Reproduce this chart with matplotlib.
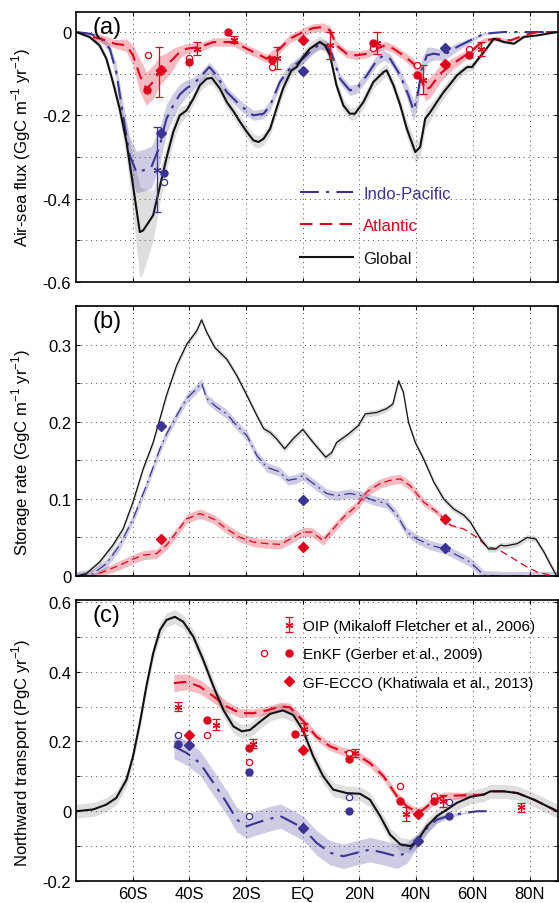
import numpy as np
import matplotlib
matplotlib.use('Agg')
import matplotlib.pyplot as plt
from matplotlib.lines import Line2D
from matplotlib.legend_handler import HandlerTuple
from matplotlib.ticker import MultipleLocator, FuncFormatter

plt.rcParams['font.family'] = ['Liberation Sans', 'DejaVu Sans']
plt.rcParams['mathtext.fontset'] = 'custom'
plt.rcParams['mathtext.rm'] = 'Liberation Sans'
plt.rcParams['axes.unicode_minus'] = False

RED = '#e2001a'
BLUE = '#3b3494'

lat_ticks = [-60, -40, -20, 0, 20, 40, 60, 80]
lat_labels = ['60S', '40S', '20S', 'EQ', '20N', '40N', '60N', '80N']

# ---------------- (a) air-sea flux ----------------
glob_a_lat = [-80, -75.2, -71.7, -69.3, -67, -64.6, -62.2, -59.9, -57.5, -56.3, -52.8, -50.4, -48, -45.7,
              -43.4, -41, -38.6, -36.3, -33.9, -32.1, -29.2, -26.8, -24.5, -22.1, -19.7, -17.4, -15.6,
              -13.8, -11.5, -9.3, -7, -4, -2.2, 0.1, 2.5, 6, 7.8, 9.6, 11.9, 14.3, 16.6, 18.4, 21.4,
              24.9, 28.5, 29.6, 32, 34.4, 36.7, 39.7, 41.4, 43.2, 45, 47.3, 49.7, 52.1, 54.4, 58,
              59.7, 61.5, 63.9, 67.4, 71, 74.5, 78, 82.8, 89.8]
glob_a = [0, -0.012, -0.032, -0.064, -0.12, -0.184, -0.264, -0.368, -0.48, -0.476, -0.44, -0.37, -0.30,
          -0.24, -0.2, -0.188, -0.16, -0.128, -0.112, -0.11, -0.136, -0.168, -0.19, -0.216, -0.24, -0.26,
          -0.264, -0.256, -0.232, -0.184, -0.136, -0.092, -0.084, -0.06, -0.04, -0.024, -0.032, -0.056,
          -0.128, -0.176, -0.196, -0.196, -0.168, -0.12, -0.096, -0.092, -0.128, -0.176, -0.232, -0.288,
          -0.276, -0.208, -0.192, -0.168, -0.144, -0.124, -0.104, -0.084, -0.084, -0.068, -0.048, -0.016,
          -0.024, -0.028, -0.012, -0.008, 0]
glob_a_band = [0, 0.005, 0.008, 0.01, 0.015, 0.025, 0.04, 0.07, 0.11, 0.1, 0.06, 0.04, 0.03, 0.025,
               0.02, 0.015, 0.015, 0.015, 0.015, 0.015, 0.015, 0.015, 0.015, 0.015, 0.015, 0.015, 0.015,
               0.015, 0.015, 0.015, 0.015, 0.015, 0.015, 0.015, 0.015, 0.015, 0.015, 0.015, 0.015, 0.015,
               0.015, 0.015, 0.015, 0.015, 0.015, 0.015, 0.015, 0.015, 0.02, 0.025, 0.025, 0.025, 0.02,
               0.015, 0.015, 0.015, 0.012, 0.01, 0.01, 0.008, 0.006, 0.005, 0.004, 0.003, 0.002, 0.001, 0]

ip_a_lat = [-80, -75.2, -71.7, -68.1, -65.8, -63.4, -61.1, -58.7, -56.3, -53.4, -50.4, -49.3, -48.1,
            -45.7, -43.4, -41, -38.6, -36.3, -35.1, -33, -30.4, -26.8, -22.1, -17.4, -13.8, -11.5, -8.1,
            -4.6, 0.1, 3.7, 6, 8.4, 10.2, 13.1, 16.6, 19, 22.6, 26.1, 28.5, 30.8, 34.4, 37.3, 39.1,
            40.3, 42, 43.8, 46.2, 49.7, 54.4, 59.1, 63.9, 71, 89.8]
ip_a = [0, -0.004, -0.012, -0.04, -0.096, -0.2, -0.296, -0.336, -0.332, -0.324, -0.272, -0.24, -0.208,
        -0.176, -0.15, -0.135, -0.124, -0.11, -0.1, -0.084, -0.104, -0.144, -0.176, -0.2, -0.196,
        -0.176, -0.12, -0.088, -0.064, -0.04, -0.03, -0.032, -0.052, -0.112, -0.14, -0.136, -0.104,
        -0.068, -0.056, -0.064, -0.104, -0.152, -0.188, -0.16, -0.088, -0.056, -0.052, -0.056, -0.036,
        -0.02, -0.004, 0, 0]
ip_a_band = [0, 0.003, 0.006, 0.01, 0.02, 0.03, 0.045, 0.05, 0.05, 0.05, 0.045, 0.04, 0.035,
             0.03, 0.025, 0.02, 0.015, 0.012, 0.012, 0.012, 0.012, 0.012, 0.012, 0.012, 0.012,
             0.012, 0.012, 0.012, 0.012, 0.012, 0.012, 0.012, 0.012, 0.012, 0.012, 0.012, 0.012,
             0.012, 0.012, 0.012, 0.012, 0.02, 0.025, 0.025, 0.025, 0.02, 0.015, 0.012, 0.01,
             0.006, 0.003, 0, 0]

atl_a_lat = [-74, -69.3, -66.4, -62.2, -59.9, -57.5, -55.2, -52.8, -50.4, -48.1, -45.7, -43.4, -41,
             -36.3, -31.5, -24.5, -17.4, -12.7, -8.1, -4.6, 0.1, 3.7, 7.2, 9.6, 11.9, 15.5, 19, 22.6,
             26.1, 29, 32, 35.5, 39.1, 41.4, 43.2, 45, 48.5, 52.1, 55.6, 59.1, 63.9, 68.6, 73.3, 78,
             82.8, 89.8]
atl_a = [-0.012, -0.02, -0.028, -0.032, -0.056, -0.104, -0.136, -0.12, -0.092, -0.08, -0.064, -0.048,
         -0.04, -0.036, -0.024, -0.024, -0.048, -0.064, -0.04, -0.016, 0, 0.0096, 0.012, 0.004, -0.032,
         -0.052, -0.056, -0.052, -0.04, -0.032, -0.04, -0.056, -0.076, -0.104, -0.14, -0.132, -0.1,
         -0.08, -0.064, -0.048, -0.02, -0.016, -0.02, -0.008, 0, 0]
atl_a_band = [0.008, 0.01, 0.01, 0.015, 0.025, 0.04, 0.04, 0.04, 0.035, 0.03, 0.025, 0.015,
              0.012, 0.01, 0.01, 0.01, 0.01, 0.01, 0.01, 0.01, 0.01, 0.01, 0.01, 0.01, 0.01,
              0.01, 0.01, 0.01, 0.01, 0.01, 0.01, 0.01, 0.012, 0.015, 0.025, 0.025, 0.02,
              0.015, 0.012, 0.01, 0.006, 0.004, 0.003, 0.002, 0, 0]

# observations (a)
oip_a_atl_lat = [-50.7, -37.4, -24.1, -9.1, 9.6, 26.1, 42.4, 62.7]
oip_a_atl = [-0.096, -0.04, -0.018, -0.062, -0.032, -0.026, -0.114, -0.04]
oip_a_atl_err = [0.06, 0.016, 0.008, 0.026, 0.032, 0.026, 0.034, 0.017]
oip_a_ip_lat = [-51.3]
oip_a_ip = [-0.33]
oip_a_ip_err = [0.102]
enkf_a_atl_lat = [-54.8, -40, -26.5, -10.9, 24.9, 40.3, 58.8]
enkf_a_atl = [-0.14, -0.072, 0, -0.068, -0.026, -0.104, -0.054]
enkf2_a_atl_lat = [-54.6, -40, -10.9, 24.9, 40.3, 58.8]
enkf2_a_atl = [-0.054, -0.062, -0.084, -0.038, -0.078, -0.04]
enkf_a_ip_lat = [-49]
enkf_a_ip = [-0.338]
enkf2_a_ip_lat = [-49]
enkf2_a_ip = [-0.36]
gf_lat = [-50, 0, 50]
gf_a_atl = [-0.092, -0.02, -0.076]
gf_a_ip = [-0.242, -0.094, -0.038]

# ---------------- (b) storage rate ----------------
glob_b_lat = [-80, -76.4, -71.7, -67, -63.4, -59.9, -56.3, -52.8, -50.4, -48.1, -44.5, -41, -37.4, -35.7,
              -33.9, -31, -26.8, -23.3, -19.7, -16.2, -13.8, -11.5, -9.3, -6.4, -3.4, 0, 3.7, 8.1, 10.2,
              11.9, 16.1, 19.6, 22, 26.1, 29.6, 31.8, 33.8, 35.5, 37.3, 39.7, 42.6, 46.2, 49.7, 53.2,
              56.8, 59.1, 62.7, 65.6, 68, 69.8, 71.5, 75.7, 79.2, 82.2, 85.1, 87.5, 89.6]
glob_b = [0, 0.003, 0.018, 0.04, 0.061, 0.096, 0.139, 0.173, 0.204, 0.234, 0.273, 0.3, 0.318, 0.332,
          0.316, 0.296, 0.281, 0.26, 0.234, 0.208, 0.191, 0.186, 0.178, 0.165, 0.178, 0.19, 0.173, 0.154,
          0.16, 0.173, 0.184, 0.195, 0.21, 0.212, 0.217, 0.223, 0.253, 0.238, 0.199, 0.173, 0.152, 0.122,
          0.1, 0.087, 0.079, 0.07, 0.048, 0.035, 0.035, 0.04, 0.039, 0.042, 0.05, 0.048, 0.031, 0.014, 0]
glob_b_band = 0.004

ip_b_lat = [-80, -74, -69.3, -64.6, -59.9, -55.2, -50.4, -48.1, -44.5, -41, -37.4, -35.7, -33.9, -30.4,
            -26.8, -23.3, -19.7, -16.2, -12.7, -8.1, -5.2, -2.2, 0, 3.7, 8.4, 11.9, 16.6, 20.8, 24.9,
            29.6, 33.2, 36.7, 40.3, 45, 50.1, 54.4, 59.1, 63.9, 71, 89.6]
ip_b = [0, 0.003, 0.016, 0.04, 0.074, 0.117, 0.165, 0.184, 0.208, 0.23, 0.243, 0.25, 0.23, 0.219,
        0.21, 0.195, 0.182, 0.156, 0.141, 0.135, 0.124, 0.126, 0.13, 0.12, 0.107, 0.104, 0.107, 0.104,
        0.098, 0.094, 0.079, 0.057, 0.048, 0.04, 0.035, 0.027, 0.018, 0.001, 0, 0]
ip_b_band = 0.006

atl_b_lat = [-80, -74, -69.3, -64.6, -59.9, -56.3, -51.6, -48.1, -44.5, -41, -36.3, -31.5, -26.8, -22.1,
             -17.4, -12.7, -7.9, -3.4, 0, 3.1, 7.2, 10.7, 14.3, 19, 22.6, 27.3, 30.8, 34.4, 37.9, 42.6,
             47.3, 52.1, 56.8, 61.5, 65, 68.6, 73.3, 78, 82.8, 87.5]
atl_b = [0, 0, 0.007, 0.014, 0.022, 0.027, 0.029, 0.04, 0.057, 0.074, 0.081, 0.074, 0.061, 0.05,
         0.044, 0.042, 0.041, 0.05, 0.057, 0.057, 0.046, 0.061, 0.076, 0.091, 0.109, 0.12, 0.124, 0.126,
         0.117, 0.096, 0.083, 0.066, 0.061, 0.05, 0.038, 0.035, 0.025, 0.014, 0.005, 0.001]
atl_b_band = [0, 0.003, 0.005, 0.006, 0.006, 0.006, 0.006, 0.006, 0.006, 0.006, 0.006, 0.006, 0.006,
              0.006, 0.006, 0.006, 0.006, 0.006, 0.006, 0.006, 0.006, 0.006, 0.006, 0.006, 0.006, 0.006,
              0.006, 0.006, 0.006, 0.005, 0.004, 0.002, 0, 0, 0, 0, 0, 0, 0, 0]

gf_b_atl = [0.048, 0.038, 0.074]
gf_b_ip = [0.194, 0.099, 0.036]

# ---------------- (c) northward transport ----------------
glob_c_lat = [-80, -74, -69.3, -65.8, -62.2, -59.9, -57.5, -55.2, -52.8, -50.4, -48.1, -45.1, -42.2,
              -38.6, -35.1, -31.5, -28, -24.5, -21.5, -18.6, -15, -11.5, -7, -3.4, 0, 3.7, 7.2, 10.7,
              15.5, 20.2, 23.7, 27.3, 30.8, 34.4, 37.9, 40.3, 43.8, 47.3, 50.9, 54.4, 59.1, 63.9, 66.2,
              71, 75.7, 81.6, 86.3, 89.8]
glob_c = [0, 0.005, 0.019, 0.038, 0.09, 0.157, 0.252, 0.357, 0.452, 0.519, 0.548, 0.557, 0.543, 0.5,
          0.433, 0.357, 0.29, 0.243, 0.229, 0.233, 0.257, 0.279, 0.289, 0.276, 0.233, 0.157, 0.1, 0.062,
          0.052, 0.05, 0.033, -0.014, -0.067, -0.095, -0.1, -0.086, -0.043, -0.014, 0.005, 0.024, 0.041,
          0.048, 0.057, 0.057, 0.052, 0.033, 0.014, 0]
glob_c_band = 0.02

atl_c_lat = [-45.5, -41, -36.3, -31.5, -26.8, -22.1, -17.4, -12.7, -7.9, -4.6, 0, 4.8, 9.6, 14.3, 19,
             23.7, 28.5, 33.2, 36.7, 40.3, 42.6, 46.2, 49.7, 54.4, 59.1, 63.9, 66.2, 71, 75.7, 81.6,
             86.3, 89.8]
atl_c = [0.367, 0.371, 0.357, 0.329, 0.3, 0.281, 0.281, 0.289, 0.3, 0.298, 0.26, 0.214, 0.186, 0.171,
         0.162, 0.138, 0.1, 0.043, 0.014, -0.003, 0.005, 0.03, 0.043, 0.045, 0.046, 0.048, 0.057, 0.057,
         0.052, 0.033, 0.014, 0]
atl_c_band = [0.025, 0.022, 0.02, 0.018, 0.015, 0.013, 0.012, 0.012, 0.012, 0.012, 0.012, 0.012, 0.012,
              0.012, 0.012, 0.012, 0.012, 0.012, 0.012, 0.012, 0.012, 0.012, 0.012, 0.01, 0.006, 0,
              0, 0, 0, 0, 0, 0]

ip_c_lat = [-45.5, -41, -36.3, -31.5, -26.8, -23.3, -19.7, -16.2, -12.7, -7.9, -3.4, 0, 4.8, 9.6, 14.3,
            19, 23.7, 28.5, 33.2, 36.7, 40.3, 43.8, 47.3, 52.1, 56.8, 61.5, 66.2]
ip_c = [0.186, 0.167, 0.138, 0.081, 0.024, -0.024, -0.043, -0.033, -0.024, -0.014, -0.033, -0.048,
        -0.09, -0.119, -0.129, -0.119, -0.11, -0.119, -0.129, -0.119, -0.086, -0.048, -0.024, -0.012,
        -0.005, 0, 0]
ip_c_band = [0.035, 0.035, 0.035, 0.035, 0.035, 0.035, 0.035, 0.035, 0.035, 0.035, 0.035, 0.035,
             0.035, 0.035, 0.035, 0.035, 0.035, 0.035, 0.035, 0.03, 0.02, 0.015, 0.01, 0.006, 0.003, 0, 0]

oip_c_lat = [-44, -30.6, -17.6, 0.4, 18.4, 36.5, 49.5, 76.9]
oip_c = [0.3, 0.248, 0.193, 0.235, 0.167, -0.007, 0.029, 0.012]
oip_c_err = [0.012, 0.015, 0.013, 0.018, 0.012, 0.02, 0.018, 0.013]
enkf_c_atl_lat = [-33.9, -18.8, -2.8, 16.3, 34.4, 46.4]
enkf_c_atl = [0.26, 0.181, 0.222, 0.151, 0.029, 0.03]
enkf2_c_atl_lat = [-33.9, -18.8, 16.3, 34.4, 46.4]
enkf2_c_atl = [0.219, 0.14, 0.167, 0.073, 0.045]
enkf_c_ip_lat = [-44, -18.8, 16.3, 51.7]
enkf_c_ip = [0.193, 0.111, 0, -0.014]
enkf2_c_ip_lat = [-44, -18.8, 16.3, 51.7]
enkf2_c_ip = [0.219, -0.014, 0.04, 0.027]
gf_c_lat = [-40, 0, 40.5]
gf_c_atl = [0.219, 0.175, -0.008]
gf_c_ip = [0.19, -0.048, -0.086]

DASH = (0, (6, 3.5))
DASHDOT = (0, (9, 3.5, 1.5, 3.5))


def band(ax, lat, val, w, color, alpha):
    lat = np.asarray(lat)
    val = np.asarray(val)
    w = np.broadcast_to(np.asarray(w, dtype=float), val.shape)
    ax.fill_between(lat, val - w, val + w, color=color, alpha=alpha, lw=0)


def style(ax, ylim, major, minor, xlabels, ylabel, tag):
    ax.set_xlim(-80, 90)
    ax.set_ylim(*ylim)
    ax.set_xticks(lat_ticks)
    ax.yaxis.set_major_locator(MultipleLocator(major))
    ax.yaxis.set_minor_locator(MultipleLocator(minor))
    ax.yaxis.set_major_formatter(FuncFormatter(lambda v, p: '%g' % (round(v, 3) + 0.0)))
    ax.grid(True, which='both', linestyle=(0, (1, 4)), color='0.3', linewidth=0.7)
    ax.tick_params(which='both', direction='in', top=True, right=True, length=3, labelsize=12)
    if xlabels:
        ax.set_xticklabels(lat_labels)
    else:
        ax.set_xticklabels([])
    for s in ax.spines.values():
        s.set_linewidth(1.2)
    ax.set_ylabel(ylabel, fontsize=12)
    ax.yaxis.set_label_coords(-0.09, 0.5)
    ax.text(0.035, 0.985, tag, transform=ax.transAxes, fontsize=17, va='top', ha='left')


def obs(ax, color, oip=None, enkf=None, enkf2=None, gf=None):
    h = {}
    if oip is not None:
        h['oip'] = ax.errorbar(oip[0], oip[1], yerr=oip[2], ls='none', marker=(6, 2, 0), ms=5.5,
                               mew=0.9, color=color, elinewidth=0.9, capsize=3, capthick=0.9, zorder=6)
    if enkf2 is not None:
        h['enkf2'], = ax.plot(enkf2[0], enkf2[1], ls='none', marker='o', ms=4.5, mfc='white',
                              mec=color, mew=0.9, zorder=6)
    if enkf is not None:
        h['enkf'], = ax.plot(enkf[0], enkf[1], ls='none', marker='o', ms=5, color=color, zorder=6)
    if gf is not None:
        h['gf'], = ax.plot(gf[0], gf[1], ls='none', marker='D', ms=5, color=color, zorder=6)
    return h


fig = plt.figure(figsize=(5.59, 9.04), dpi=100)
ax_a = fig.add_axes([0.136, 0.6869, 0.862, 0.2987])
ax_b = fig.add_axes([0.136, 0.3617, 0.862, 0.2987])
ax_c = fig.add_axes([0.136, 0.0243, 0.862, 0.3108])

# (a)
band(ax_a, glob_a_lat, glob_a, glob_a_band, 'k', 0.13)
band(ax_a, ip_a_lat, ip_a, ip_a_band, BLUE, 0.25)
band(ax_a, atl_a_lat, atl_a, atl_a_band, RED, 0.27)
l_ip, = ax_a.plot(ip_a_lat, ip_a, color=BLUE, lw=1.5, ls=DASHDOT, label='Indo-Pacific')
l_atl, = ax_a.plot(atl_a_lat, atl_a, color=RED, lw=1.5, ls=DASH, label='Atlantic')
l_glob, = ax_a.plot(glob_a_lat, glob_a, color='#111111', lw=1.5, label='Global')
obs(ax_a, RED, oip=(oip_a_atl_lat, oip_a_atl, oip_a_atl_err), enkf=(enkf_a_atl_lat, enkf_a_atl),
    enkf2=(enkf2_a_atl_lat, enkf2_a_atl), gf=(gf_lat, gf_a_atl))
obs(ax_a, BLUE, oip=(oip_a_ip_lat, oip_a_ip, oip_a_ip_err), enkf=(enkf_a_ip_lat, enkf_a_ip),
    enkf2=(enkf2_a_ip_lat, enkf2_a_ip), gf=(gf_lat, gf_a_ip))
style(ax_a, (-0.6, 0.048), 0.2, 0.1, False, 'Air-sea flux (GgC m$^{-1}$ yr$^{-1}$)', '(a)')
ax_a.legend(handles=[l_ip, l_atl, l_glob], loc='upper left', bbox_to_anchor=(0.465, 0.357),
            frameon=False, fontsize=12, handlelength=3.2, handletextpad=0.6, labelspacing=1.05,
            borderpad=0, borderaxespad=0, labelcolor='linecolor')

# (b)
band(ax_b, glob_b_lat, glob_b, glob_b_band, 'k', 0.15)
band(ax_b, ip_b_lat, ip_b, ip_b_band, BLUE, 0.25)
band(ax_b, atl_b_lat, atl_b, atl_b_band, RED, 0.27)
ax_b.plot(ip_b_lat, ip_b, color=BLUE, lw=0.9, ls=DASHDOT)
ax_b.plot(atl_b_lat, atl_b, color=RED, lw=0.9, ls=DASH)
ax_b.plot(glob_b_lat, glob_b, color='#111111', lw=0.9)
obs(ax_b, RED, gf=(gf_lat, gf_b_atl))
obs(ax_b, BLUE, gf=(gf_lat, gf_b_ip))
style(ax_b, (0, 0.35), 0.1, 0.05, False, 'Storage rate (GgC m$^{-1}$ yr$^{-1}$)', '(b)')
ax_b.yaxis.set_label_coords(-0.09, 0.46)

# (c)
band(ax_c, glob_c_lat, glob_c, glob_c_band, 'k', 0.13)
band(ax_c, ip_c_lat, ip_c, ip_c_band, BLUE, 0.25)
band(ax_c, atl_c_lat, atl_c, atl_c_band, RED, 0.27)
ax_c.plot(ip_c_lat, ip_c, color=BLUE, lw=1.5, ls=DASHDOT)
ax_c.plot(atl_c_lat, atl_c, color=RED, lw=1.5, ls=DASH)
ax_c.plot(glob_c_lat, glob_c, color='#111111', lw=1.5)
h_red = obs(ax_c, RED, oip=(oip_c_lat, oip_c, oip_c_err), enkf=(enkf_c_atl_lat, enkf_c_atl),
            enkf2=(enkf2_c_atl_lat, enkf2_c_atl), gf=(gf_c_lat, gf_c_atl))
obs(ax_c, BLUE, enkf=(enkf_c_ip_lat, enkf_c_ip), enkf2=(enkf2_c_ip_lat, enkf2_c_ip),
    gf=(gf_c_lat, gf_c_ip))
style(ax_c, (-0.2, 0.605), 0.2, 0.1, True, 'Northward transport (PgC yr$^{-1}$)', '(c)')
ax_c.yaxis.set_label_coords(-0.09, 0.46)

blank = Line2D([], [], ls='none', marker='none')
ax_c.legend(handles=[(blank, h_red['oip']), (h_red['enkf2'], h_red['enkf']), (blank, h_red['gf'])],
            labels=['OIP (Mikaloff Fletcher et al., 2006)', 'EnKF (Gerber et al., 2009)',
                    'GF-ECCO (Khatiwala et al., 2013)'],
            handler_map={tuple: HandlerTuple(ndivide=None, pad=0.6)},
            loc='upper left', bbox_to_anchor=(0.375, 0.932), frameon=False, fontsize=11,
            handlelength=2.6, handletextpad=0.45, labelspacing=0.93, borderpad=0, borderaxespad=0,
            numpoints=1)

fig.savefig('out.png', dpi=100)
